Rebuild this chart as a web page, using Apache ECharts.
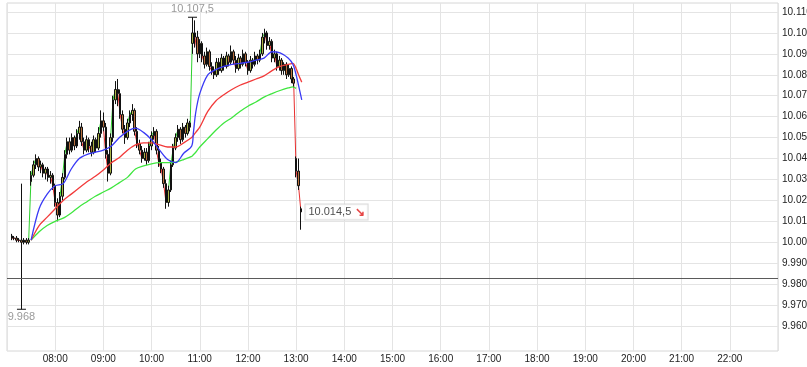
<!DOCTYPE html>
<html>
<head>
<meta charset="utf-8">
<script src="https://cdn.jsdelivr.net/npm/echarts@6/dist/echarts.min.js"></script>
<style>
html,body{margin:0;padding:0;background:#fff;}
#c{width:807px;height:367px;}
</style>
</head>
<body>
<div id="c"></div>
<script>
// ---- data (minutes since midnight, 3-minute bars) ----
const times = [426,429,432,435,438,441,444,447,450,453,456,459,462,465,468,471,474,477,480,483,486,489,492,495,498,501,504,507,510,513,516,519,522,525,528,531,534,537,540,543,546,549,552,555,558,561,564,567,570,573,576,579,582,585,588,591,594,597,600,603,606,609,612,615,618,621,624,627,630,633,636,639,642,645,648,651,654,657,660,663,666,669,672,675,678,681,684,687,690,693,696,699,702,705,708,711,714,717,720,723,726,729,732,735,738,741,744,747,750,753,756,759,762,765,768,771,774,777,780,783,786];
const opens = [10003,10002,10002,10001,10001,10000,10001,10000,10029,10032,10037,10040,10036,10037,10033,10035,10031,10032,10027,10019,10013,10022,10031,10042,10048,10044,10050,10046,10052,10055,10048,10044,10049,10046,10043,10049,10045,10052,10058,10055,10042,10033,10050,10068,10073,10071,10061,10054,10050,10057,10061,10063,10053,10047,10044,10040,10043,10039,10046,10051,10053,10044,10038,10035,10028,10019,10025,10037,10045,10050,10054,10049,10055,10052,10057,10095,10100,10098,10090,10095,10089,10085,10091,10084,10082,10080,10086,10082,10088,10084,10089,10086,10091,10087,10083,10088,10085,10090,10086,10082,10087,10085,10089,10087,10090,10098,10100,10094,10096,10088,10090,10084,10087,10082,10085,10080,10083,10078,10040,10034,10016];
const closes = [10002,10002,10001,10001,10000,10001,10000,10001,10032,10037,10040,10036,10037,10033,10035,10031,10032,10027,10019,10013,10022,10031,10042,10048,10044,10050,10046,10052,10055,10048,10044,10049,10046,10043,10049,10045,10052,10058,10055,10042,10033,10050,10068,10073,10071,10061,10054,10050,10057,10061,10063,10053,10047,10044,10040,10043,10039,10046,10051,10053,10044,10038,10035,10028,10019,10025,10037,10045,10050,10054,10049,10055,10052,10057,10055,10100,10098,10090,10095,10089,10085,10091,10084,10082,10080,10086,10082,10088,10084,10089,10086,10091,10087,10083,10088,10085,10090,10086,10082,10087,10085,10089,10087,10090,10098,10100,10094,10096,10088,10090,10084,10087,10082,10085,10080,10083,10078,10076,10034,10027,10014.5];
const lows = [10001,10001,10000,10000,9968,9999,9999,9999,10027,10031,10035,10034,10033,10031,10030,10029,10028,10025,10017,10010,10012,10020,10030,10040,10042,10043,10044,10045,10049,10046,10042,10043,10043,10041,10042,10043,10044,10050,10053,10040,10029,10032,10048,10066,10065,10059,10052,10047,10049,10055,10058,10051,10045,10042,10038,10039,10037,10038,10044,10049,10042,10036,10033,10026,10016,10017,10024,10036,10044,10048,10047,10048,10050,10051,10053,10090,10093,10086,10088,10086,10083,10084,10082,10080,10078,10079,10080,10081,10082,10083,10084,10085,10085,10081,10082,10083,10084,10084,10080,10081,10083,10084,10085,10086,10089,10095,10092,10092,10086,10086,10082,10082,10080,10080,10078,10079,10076,10074,10031,10025,10006];
const highs = [10004,10003,10003,10002,10028,10002,10002,10002,10034,10039,10042,10041,10039,10038,10036,10036,10034,10033,10028,10021,10024,10033,10044,10050,10050,10052,10051,10054,10058,10057,10050,10051,10050,10048,10051,10050,10055,10063,10062,10057,10044,10052,10070,10077,10078,10073,10063,10056,10059,10063,10066,10064,10055,10049,10046,10045,10045,10048,10053,10055,10054,10046,10040,10036,10030,10027,10039,10047,10052,10056,10055,10057,10056,10059,10058,10107.5,10106,10101,10097,10096,10091,10093,10092,10086,10084,10088,10088,10090,10089,10091,10090,10094,10092,10089,10090,10089,10092,10091,10087,10089,10088,10091,10090,10092,10100,10102,10101,10098,10097,10092,10091,10089,10088,10086,10086,10085,10084,10079,10041,10040,10017];

// moving averages
const maTimes  = [450,460,470,480,490,500,510,520,530,540,550,560,570,580,590,600,610,620,630,640,650,652,655,660,670,680,690,700,710,720,730,740,750,760,770,776,780,783,787];
const maBlue   = [10001,10016,10023,10027,10028,10035,10040,10042,10043,10044,10046,10050,10053,10054.5,10052.5,10049,10044,10039.5,10038,10042.5,10046,10052,10062,10071,10080,10082.5,10084,10085,10085.5,10086,10087,10088,10091,10090.5,10088,10085,10080,10075,10068];
const maRed    = [10001,10008,10012,10016,10020,10023,10026,10029,10031.5,10034.5,10038,10040.5,10044,10046.5,10047.5,10047.5,10046.5,10045.5,10045.5,10047.5,10050,10051,10052.5,10055,10062.5,10067.5,10070.5,10073,10075,10076.5,10078,10079.5,10082,10084,10085,10085.5,10083,10080,10076.5];
const maGreen  = [10001,10005,10008,10010,10011.5,10014,10017,10019.5,10022,10024,10026,10028.5,10031,10035,10036.5,10037.5,10038,10038,10038.3,10039.5,10041,10041.8,10043,10045.5,10049.5,10053.5,10057,10059.5,10062.5,10065,10067,10069.3,10071,10072.5,10073.7,10074.2,10073.5,null,null];

const prevClose = 9983;
const yTicks = {min: 9960, max: 10110, step: 10};
const xTicks = {min: 420, max: 1380, step: 60};

function de(v) {
  const parts = String(v).split('.');
  const ip = parts[0].replace(/\B(?=(\d{3})+(?!\d))/g, '.');
  return parts[1] ? ip + ',' + parts[1] : ip;
}
function hm(v) {
  return String(Math.floor(v / 60)).padStart(2, '0') + ':' + String(v % 60).padStart(2, '0');
}

// pick a narrow sans if installed, else regular
function hasFont(name) {
  const c = document.createElement('canvas').getContext('2d');
  c.font = '20px monospace';
  const a = c.measureText('10.110 08:00').width;
  c.font = '20px "' + name + '", monospace';
  return c.measureText('10.110 08:00').width !== a;
}
const narrow = hasFont('Liberation Sans Narrow');
const font = narrow ? '"Liberation Sans Narrow", Arial, sans-serif' : '"Liberation Sans", Arial, sans-serif';
const fs = narrow ? 11 : 10;

let maxI = 0, minI = 0;
highs.forEach((h, i) => { if (h > highs[maxI]) maxI = i; });
lows.forEach((l, i) => { if (l < lows[minI]) minI = i; });
const lastI = times.length - 1;

const chart = echarts.init(document.getElementById('c'), null, {renderer: 'canvas'});
chart.setOption({
  animation: false,
  backgroundColor: '#fff',
  textStyle: {fontFamily: font},
  grid: [
    {left: 7, right: 29, top: 3, bottom: 16, show: true, borderColor: '#d6d6d6', borderWidth: 1, backgroundColor: 'transparent', outerBoundsMode: 'none', containLabel: false},
    {left: 7, right: 29, top: 12, height: 314, outerBoundsMode: 'none', containLabel: false}
  ],
  xAxis: [
    {type: 'value', gridIndex: 0, min: xTicks.min, max: xTicks.max, interval: xTicks.step,
     axisLine: {show: false}, axisTick: {show: false},
     splitLine: {show: true, lineStyle: {color: '#e4e4e4'}},
     axisLabel: {formatter: hm, showMinLabel: false, showMaxLabel: false, color: '#222', fontSize: fs, margin: 3, fontFamily: font}},
    {type: 'value', gridIndex: 1, min: xTicks.min, max: xTicks.max, show: false}
  ],
  yAxis: [
    {type: 'value', gridIndex: 0, min: 0, max: 1, show: false},
    {type: 'value', gridIndex: 1, position: 'right', min: yTicks.min, max: yTicks.max, interval: yTicks.step,
     axisLine: {show: false}, axisTick: {show: false},
     splitLine: {show: true, lineStyle: {color: '#e4e4e4'}},
     axisLabel: {formatter: v => de(v), color: '#222', fontSize: fs, margin: 4, padding: [3, 0, 0, 0], fontFamily: font}}
  ],
  series: [
    {
      type: 'custom', xAxisIndex: 1, yAxisIndex: 1, z: 1, clip: true,
      data: times.map((t, i) => [t, closes[i]]),
      renderItem: function (params, api) {
        const i = params.dataIndex;
        if (i === 0) return null;
        const p0 = api.coord([times[i - 1], closes[i - 1]]);
        const p1 = api.coord([times[i], closes[i]]);
        return {type: 'line', shape: {x1: p0[0], y1: p0[1], x2: p1[0], y2: p1[1]},
                style: {stroke: closes[i] > closes[i - 1] ? '#2ed12e' : '#e83030', lineWidth: 1}};
      }
    },
    {
      type: 'candlestick', xAxisIndex: 1, yAxisIndex: 1, z: 2,
      data: times.map((t, i) => [t, opens[i], closes[i], lows[i], highs[i]]),
      encode: {x: 0, y: [1, 2, 3, 4]},
      barWidth: 2,
      itemStyle: {color: '#aab446', color0: '#b8703e', borderColor: '#111', borderColor0: '#111', borderWidth: 1},
      markLine: {
        symbol: 'none', silent: true, label: {show: false},
        lineStyle: {color: '#5a5a5a', width: 1, type: 'solid'},
        data: [{yAxis: prevClose}]
      },
      markPoint: {
        symbol: 'rect', symbolSize: [9, 1], silent: true,
        itemStyle: {color: '#111'},
        label: {show: true, color: '#9a9a9a', fontSize: fs + 1, fontFamily: font},
        data: [
          {coord: [times[maxI], highs[maxI]], label: {position: 'top', distance: 2, formatter: de(highs[maxI])}},
          {coord: [times[minI], lows[minI]], label: {position: 'bottom', distance: 2, formatter: de(lows[minI])}}
        ]
      }
    },
    {type: 'line', xAxisIndex: 1, yAxisIndex: 1, z: 3, smooth: 0.3, showSymbol: false, connectNulls: false,
     data: maTimes.map((t, i) => [t, maGreen[i]]), lineStyle: {color: '#3fe63f', width: 1.3}},
    {type: 'line', xAxisIndex: 1, yAxisIndex: 1, z: 3, smooth: 0.3, showSymbol: false,
     data: maTimes.map((t, i) => [t, maRed[i]]), lineStyle: {color: '#f23a3a', width: 1.3}},
    {type: 'line', xAxisIndex: 1, yAxisIndex: 1, z: 3, smooth: 0.3, showSymbol: false,
     data: maTimes.map((t, i) => [t, maBlue[i]]), lineStyle: {color: '#3a3af5', width: 1.3}},
    {
      type: 'scatter', xAxisIndex: 1, yAxisIndex: 1, z: 5, symbolSize: 1,
      itemStyle: {color: 'rgba(0,0,0,0)'},
      data: [[times[lastI], closes[lastI]]],
      label: {
        show: true, position: 'right', distance: 4,
        formatter: () => '{t|' + de(closes[lastI]) + '} {a|↘}',
        backgroundColor: '#fff', borderColor: '#cfcfcf', borderWidth: 1, padding: [2, 3, 1, 3],
        rich: {t: {color: '#222', fontSize: fs + 1, fontFamily: font}, a: {color: '#e01818', fontSize: 12, fontWeight: 'bold'}}
      }
    }
  ]
});
</script>
</body>
</html>
